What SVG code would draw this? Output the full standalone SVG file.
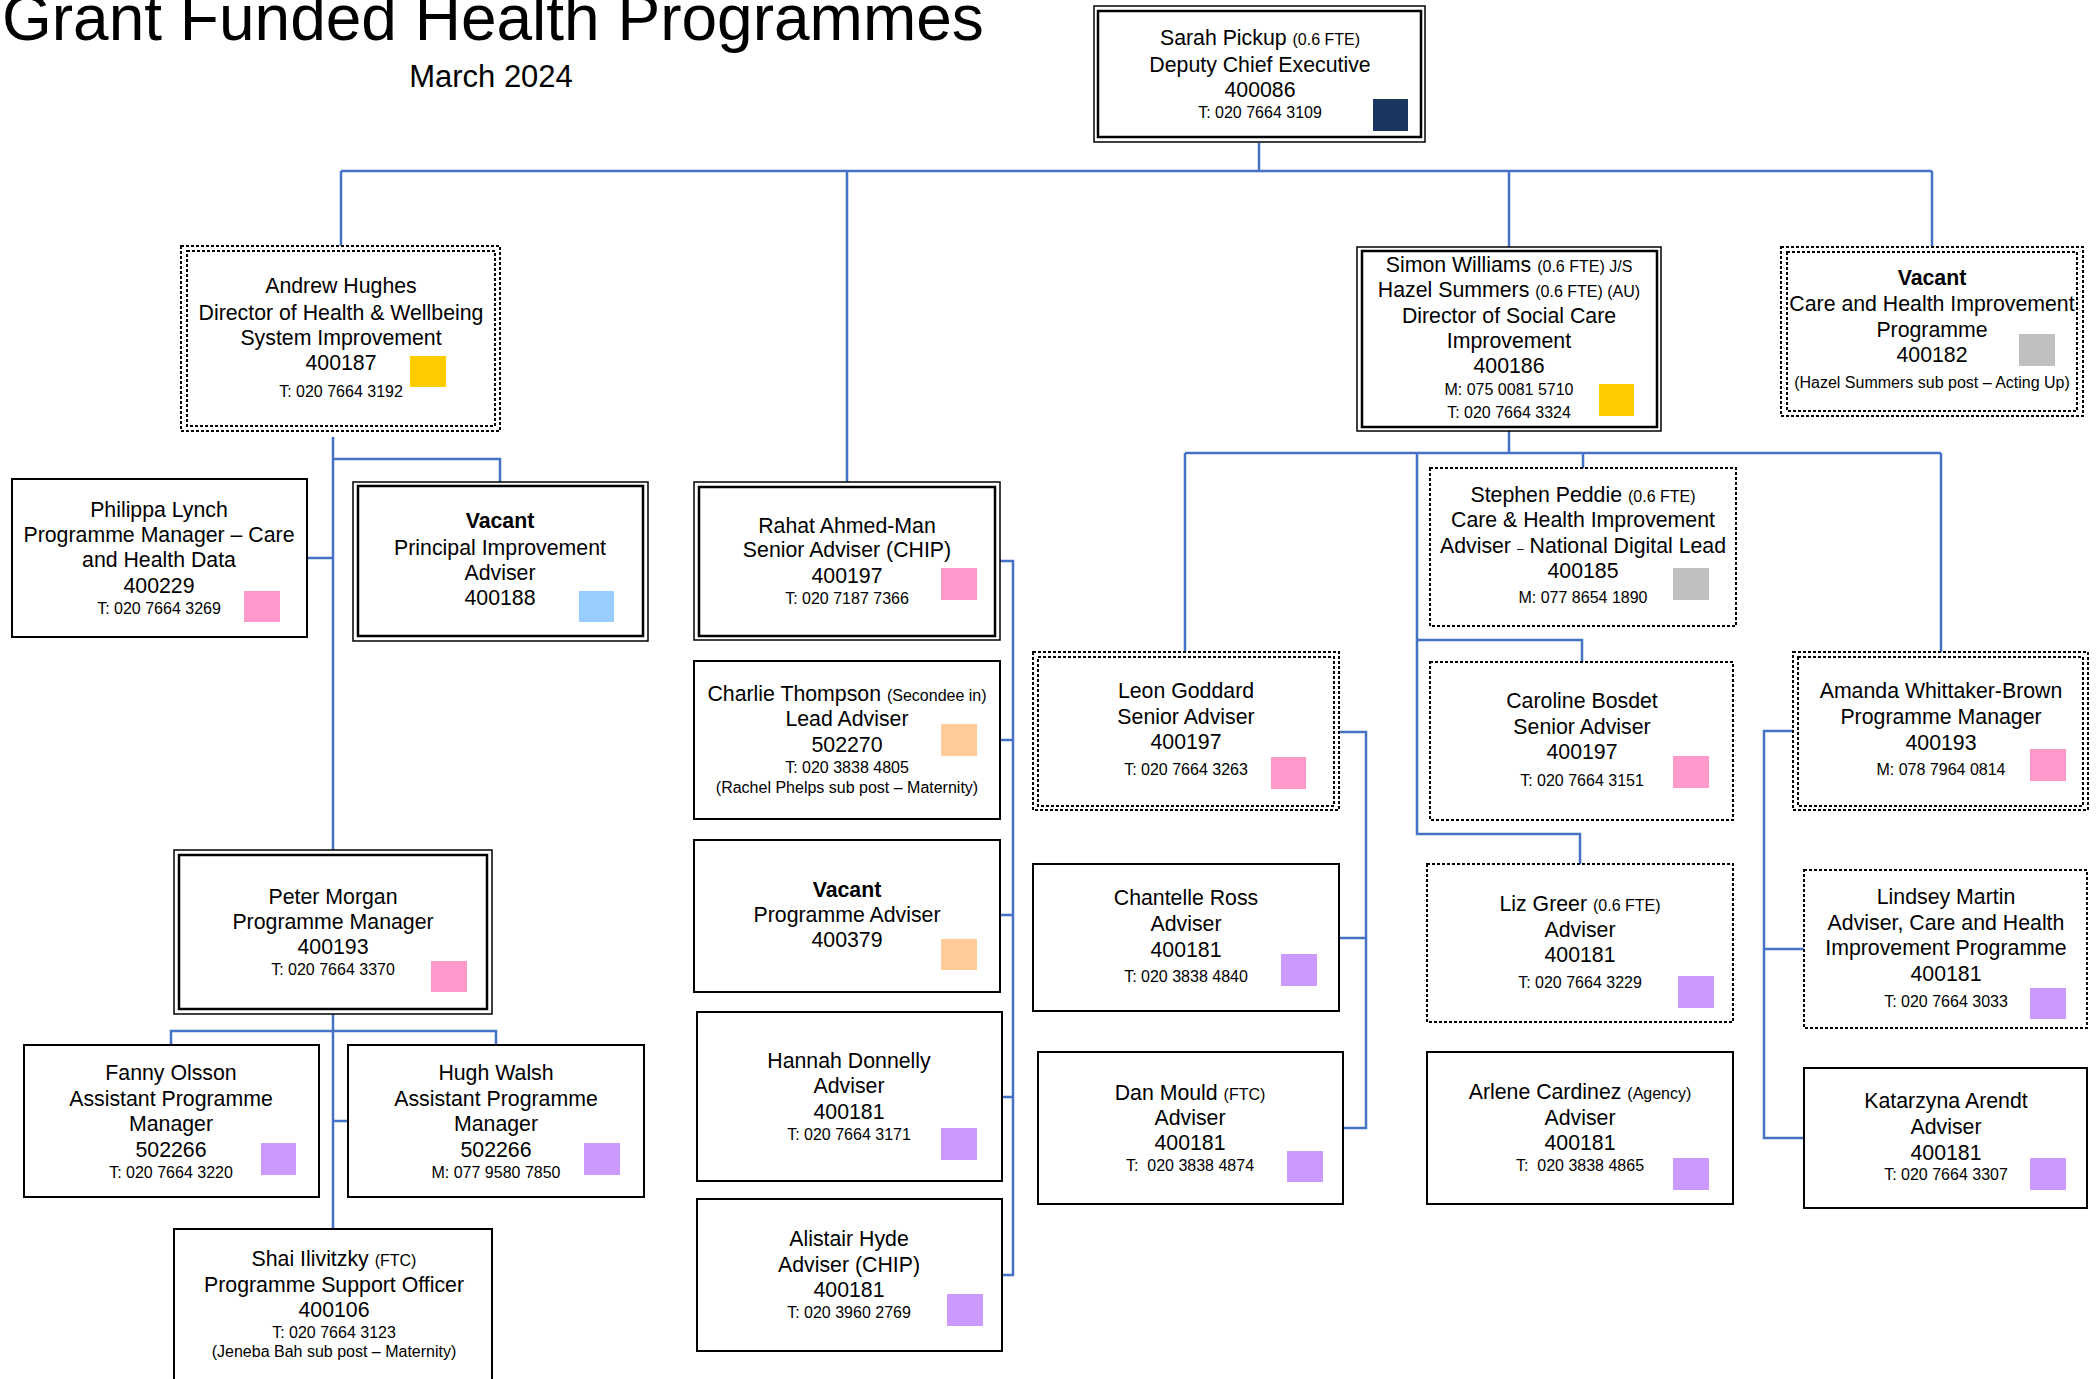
<svg xmlns="http://www.w3.org/2000/svg" width="2100" height="1379" viewBox="0 0 2100 1379">
<style>
text{font-family:"Liberation Sans",Arial,sans-serif;fill:#000;text-anchor:middle;font-size:21.3px}
.p{font-size:16px}
.s{font-size:16px}
.b{font-weight:bold}
.box{fill:#fff;stroke:#000;stroke-width:2}
.dbo{fill:#fff;stroke:#000;stroke-width:1.5}
.dbi{fill:none;stroke:#000;stroke-width:2.5}
.dot{fill:#fff;stroke:#000;stroke-width:2;stroke-dasharray:3 2}
.doti{fill:none;stroke:#000;stroke-width:2;stroke-dasharray:3 2}
.conn path{fill:none;stroke:#4472C4;stroke-width:2.5}
.navy{fill:#1B365F}.yel{fill:#FFCC00}.grey{fill:#BFBFBF}.pink{fill:#FF99CC}.blue{fill:#99CCFF}.peach{fill:#FFCC99}.lav{fill:#CC99FF}
</style>
<rect width="2100" height="1379" fill="#fff"/>
<text x="2" y="40" style="font-size:64px;text-anchor:start">Grant Funded Health Programmes</text>
<text x="491" y="87" style="font-size:31px">March 2024</text>

<g id="connectors" class="conn">
<path d="M1259 143V171"/>
<path d="M341 171H1932"/>
<path d="M341 171V246"/>
<path d="M847 171V482"/>
<path d="M1509 171V247"/>
<path d="M1932 171V247"/>
<path d="M333 437V850"/>
<path d="M333 459H500V482"/>
<path d="M307 558H333"/>
<path d="M333 1014V1229"/>
<path d="M171 1045V1031H496V1045"/>
<path d="M333 1121H348"/>
<path d="M1000 561H1013V1275H1002"/>
<path d="M1000 740H1013"/>
<path d="M1000 915H1013"/>
<path d="M1002 1097H1013"/>
<path d="M1509 431V453"/>
<path d="M1185 453H1941"/>
<path d="M1185 453V652"/>
<path d="M1583 453V468"/>
<path d="M1941 453V652"/>
<path d="M1417 453V834H1580V864"/>
<path d="M1417 640H1582V662"/>
<path d="M1339 732H1366V1128H1343"/>
<path d="M1339 938H1366"/>
<path d="M1793 731H1764V1138H1804"/>
<path d="M1764 949H1804"/>
</g>

<g id="sarah">
<rect class="dbo" x="1094" y="6" width="331" height="136"/>
<rect class="dbi" x="1098" y="11" width="323" height="126"/>
<text x="1260" y="45">Sarah Pickup <tspan class="s">(0.6 FTE)</tspan></text>
<text x="1260" y="72">Deputy Chief Executive</text>
<text x="1260" y="97">400086</text>
<text x="1260" y="118" class="p">T: 020 7664 3109</text>
<rect class="navy" x="1373" y="99" width="35" height="32"/>
</g>

<g id="andrew">
<rect class="dot" x="181" y="246" width="319" height="185"/>
<rect class="doti" x="187" y="251" width="308" height="175"/>
<text x="341" y="293">Andrew Hughes</text>
<text x="341" y="320">Director of Health &amp; Wellbeing</text>
<text x="341" y="345">System Improvement</text>
<text x="341" y="370">400187</text>
<text x="341" y="397" class="p">T: 020 7664 3192</text>
<rect class="yel" x="410" y="356" width="36" height="31"/>
</g>

<g id="simon">
<rect class="dbo" x="1357" y="247" width="304" height="184"/>
<rect class="dbi" x="1362" y="251" width="295" height="176"/>
<text x="1509" y="272">Simon Williams <tspan class="s">(0.6 FTE) J/S</tspan></text>
<text x="1509" y="297">Hazel Summers <tspan class="s">(0.6 FTE) (AU)</tspan></text>
<text x="1509" y="323">Director of Social Care</text>
<text x="1509" y="348">Improvement</text>
<text x="1509" y="373">400186</text>
<text x="1509" y="395" class="p">M: 075 0081 5710</text>
<text x="1509" y="418" class="p">T: 020 7664 3324</text>
<rect class="yel" x="1599" y="384" width="35" height="32"/>
</g>

<g id="vacant-chip">
<rect class="dot" x="1781" y="247" width="302" height="169"/>
<rect class="doti" x="1787" y="252" width="290" height="159"/>
<text x="1932" y="285" class="b">Vacant</text>
<text x="1932" y="311">Care and Health Improvement</text>
<text x="1932" y="337">Programme</text>
<text x="1932" y="362">400182</text>
<text x="1932" y="388" class="p">(Hazel Summers sub post – Acting Up)</text>
<rect class="grey" x="2019" y="334" width="36" height="32"/>
</g>

<g id="philippa">
<rect class="box" x="12" y="479" width="295" height="158"/>
<text x="159" y="517">Philippa Lynch</text>
<text x="159" y="542">Programme Manager – Care</text>
<text x="159" y="567">and Health Data</text>
<text x="159" y="593">400229</text>
<text x="159" y="614" class="p">T: 020 7664 3269</text>
<rect class="pink" x="244" y="591" width="36" height="31"/>
</g>

<g id="vacant-principal">
<rect class="dbo" x="353" y="482" width="295" height="159"/>
<rect class="dbi" x="358" y="486" width="285" height="150"/>
<text x="500" y="528" class="b">Vacant</text>
<text x="500" y="555">Principal Improvement</text>
<text x="500" y="580">Adviser</text>
<text x="500" y="605">400188</text>
<rect class="blue" x="579" y="591" width="35" height="31"/>
</g>

<g id="rahat">
<rect class="dbo" x="694" y="482" width="306" height="158"/>
<rect class="dbi" x="699" y="487" width="296" height="149"/>
<text x="847" y="533">Rahat Ahmed-Man</text>
<text x="847" y="557">Senior Adviser (CHIP)</text>
<text x="847" y="583">400197</text>
<text x="847" y="604" class="p">T: 020 7187 7366</text>
<rect class="pink" x="941" y="568" width="36" height="32"/>
</g>

<g id="charlie">
<rect class="box" x="694" y="661" width="306" height="158"/>
<text x="847" y="701">Charlie Thompson <tspan class="s">(Secondee in)</tspan></text>
<text x="847" y="726">Lead Adviser</text>
<text x="847" y="752">502270</text>
<text x="847" y="773" class="p">T: 020 3838 4805</text>
<text x="847" y="793" class="p">(Rachel Phelps sub post – Maternity)</text>
<rect class="peach" x="941" y="724" width="36" height="32"/>
</g>

<g id="vacant-pa">
<rect class="box" x="694" y="840" width="306" height="152"/>
<text x="847" y="897" class="b">Vacant</text>
<text x="847" y="922">Programme Adviser</text>
<text x="847" y="947">400379</text>
<rect class="peach" x="941" y="939" width="36" height="31"/>
</g>

<g id="hannah">
<rect class="box" x="697" y="1012" width="305" height="169"/>
<text x="849" y="1068">Hannah Donnelly</text>
<text x="849" y="1093">Adviser</text>
<text x="849" y="1119">400181</text>
<text x="849" y="1140" class="p">T: 020 7664 3171</text>
<rect class="lav" x="941" y="1128" width="36" height="32"/>
</g>

<g id="alistair">
<rect class="box" x="697" y="1199" width="305" height="152"/>
<text x="849" y="1246">Alistair Hyde</text>
<text x="849" y="1272">Adviser (CHIP)</text>
<text x="849" y="1297">400181</text>
<text x="849" y="1318" class="p">T: 020 3960 2769</text>
<rect class="lav" x="947" y="1294" width="36" height="32"/>
</g>

<g id="leon">
<rect class="dot" x="1033" y="652" width="306" height="158"/>
<rect class="doti" x="1038" y="657" width="296" height="149"/>
<text x="1186" y="698">Leon Goddard</text>
<text x="1186" y="724">Senior Adviser</text>
<text x="1186" y="749">400197</text>
<text x="1186" y="775" class="p">T: 020 7664 3263</text>
<rect class="pink" x="1271" y="757" width="35" height="32"/>
</g>

<g id="chantelle">
<rect class="box" x="1033" y="864" width="306" height="147"/>
<text x="1186" y="905">Chantelle Ross</text>
<text x="1186" y="931">Adviser</text>
<text x="1186" y="957">400181</text>
<text x="1186" y="982" class="p">T: 020 3838 4840</text>
<rect class="lav" x="1281" y="954" width="36" height="32"/>
</g>

<g id="dan">
<rect class="box" x="1038" y="1052" width="305" height="152"/>
<text x="1190" y="1100">Dan Mould <tspan class="s">(FTC)</tspan></text>
<text x="1190" y="1125">Adviser</text>
<text x="1190" y="1150">400181</text>
<text x="1190" y="1171" class="p" xml:space="preserve">T:  020 3838 4874</text>
<rect class="lav" x="1287" y="1151" width="36" height="31"/>
</g>

<g id="stephen">
<rect class="dot" x="1430" y="468" width="306" height="158"/>
<text x="1583" y="502">Stephen Peddie <tspan class="s">(0.6 FTE)</tspan></text>
<text x="1583" y="527">Care &amp; Health Improvement</text>
<text x="1583" y="553">Adviser <tspan style="font-size:12px">–</tspan> National Digital Lead</text>
<text x="1583" y="578">400185</text>
<text x="1583" y="603" class="p">M: 077 8654 1890</text>
<rect class="grey" x="1673" y="568" width="36" height="32"/>
</g>

<g id="caroline">
<rect class="dot" x="1430" y="662" width="303" height="158"/>
<text x="1582" y="708">Caroline Bosdet</text>
<text x="1582" y="734">Senior Adviser</text>
<text x="1582" y="759">400197</text>
<text x="1582" y="786" class="p">T: 020 7664 3151</text>
<rect class="pink" x="1673" y="756" width="36" height="32"/>
</g>

<g id="liz">
<rect class="dot" x="1427" y="864" width="306" height="158"/>
<text x="1580" y="911">Liz Greer <tspan class="s">(0.6 FTE)</tspan></text>
<text x="1580" y="937">Adviser</text>
<text x="1580" y="962">400181</text>
<text x="1580" y="988" class="p">T: 020 7664 3229</text>
<rect class="lav" x="1678" y="976" width="36" height="32"/>
</g>

<g id="arlene">
<rect class="box" x="1427" y="1052" width="306" height="152"/>
<text x="1580" y="1099">Arlene Cardinez <tspan class="s">(Agency)</tspan></text>
<text x="1580" y="1125">Adviser</text>
<text x="1580" y="1150">400181</text>
<text x="1580" y="1171" class="p" xml:space="preserve">T:  020 3838 4865</text>
<rect class="lav" x="1673" y="1158" width="36" height="32"/>
</g>

<g id="amanda">
<rect class="dot" x="1793" y="652" width="295" height="158"/>
<rect class="doti" x="1798" y="657" width="285" height="149"/>
<text x="1941" y="698">Amanda Whittaker-Brown</text>
<text x="1941" y="724">Programme Manager</text>
<text x="1941" y="750">400193</text>
<text x="1941" y="775" class="p">M: 078 7964 0814</text>
<rect class="pink" x="2030" y="749" width="36" height="32"/>
</g>

<g id="lindsey">
<rect class="dot" x="1804" y="870" width="283" height="158"/>
<text x="1946" y="904">Lindsey Martin</text>
<text x="1946" y="930">Adviser, Care and Health</text>
<text x="1946" y="955">Improvement Programme</text>
<text x="1946" y="981">400181</text>
<text x="1946" y="1007" class="p">T: 020 7664 3033</text>
<rect class="lav" x="2030" y="988" width="36" height="31"/>
</g>

<g id="katarzyna">
<rect class="box" x="1804" y="1068" width="283" height="140"/>
<text x="1946" y="1108">Katarzyna Arendt</text>
<text x="1946" y="1134">Adviser</text>
<text x="1946" y="1160">400181</text>
<text x="1946" y="1180" class="p">T: 020 7664 3307</text>
<rect class="lav" x="2030" y="1158" width="36" height="32"/>
</g>

<g id="peter">
<rect class="dbo" x="174" y="850" width="318" height="164"/>
<rect class="dbi" x="179" y="855" width="308" height="154"/>
<text x="333" y="904">Peter Morgan</text>
<text x="333" y="929">Programme Manager</text>
<text x="333" y="954">400193</text>
<text x="333" y="975" class="p">T: 020 7664 3370</text>
<rect class="pink" x="431" y="961" width="36" height="31"/>
</g>

<g id="fanny">
<rect class="box" x="24" y="1045" width="295" height="152"/>
<text x="171" y="1080">Fanny Olsson</text>
<text x="171" y="1106">Assistant Programme</text>
<text x="171" y="1131">Manager</text>
<text x="171" y="1157">502266</text>
<text x="171" y="1178" class="p">T: 020 7664 3220</text>
<rect class="lav" x="261" y="1143" width="35" height="32"/>
</g>

<g id="hugh">
<rect class="box" x="348" y="1045" width="296" height="152"/>
<text x="496" y="1080">Hugh Walsh</text>
<text x="496" y="1106">Assistant Programme</text>
<text x="496" y="1131">Manager</text>
<text x="496" y="1157">502266</text>
<text x="496" y="1178" class="p">M: 077 9580 7850</text>
<rect class="lav" x="584" y="1143" width="36" height="32"/>
</g>

<g id="shai">
<rect class="box" x="174" y="1229" width="318" height="170"/>
<text x="334" y="1266">Shai Ilivitzky <tspan class="s">(FTC)</tspan></text>
<text x="334" y="1292">Programme Support Officer</text>
<text x="334" y="1317">400106</text>
<text x="334" y="1338" class="p">T: 020 7664 3123</text>
<text x="334" y="1357" class="p">(Jeneba Bah sub post – Maternity)</text>
</g>
</svg>
